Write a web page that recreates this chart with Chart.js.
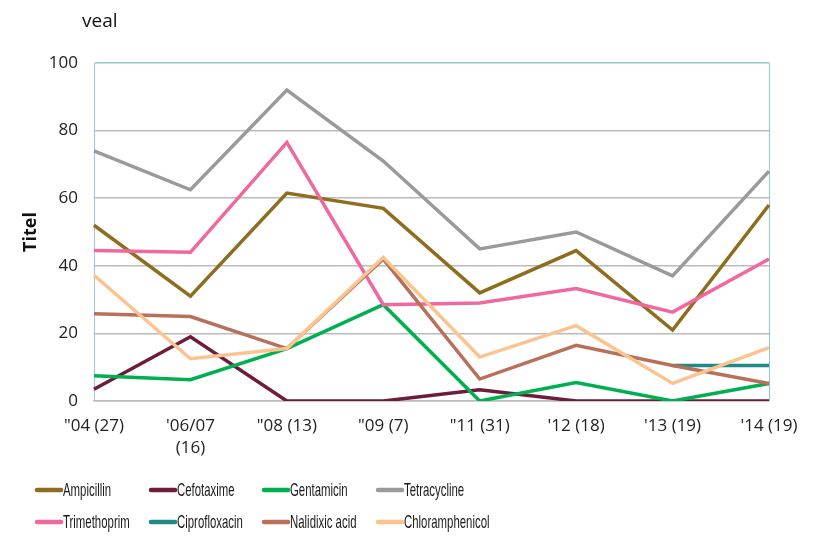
<!DOCTYPE html>
<html>
<head>
<meta charset="utf-8">
<script src="https://cdn.jsdelivr.net/npm/chart.js@4/dist/chart.umd.min.js"></script>
<style>
  html, body { margin: 0; padding: 0; background: #fff; }
  #wrap { width: 818px; height: 547px; position: relative; }
</style>
</head>
<body>
<div id="wrap"><canvas id="c" width="818" height="547"></canvas></div>
<script>
const canvas = document.getElementById("c")

// data
const years = ['"04 (27)', ["'06/07", "(16)"], '"08 (13)', '"09 (7)', '"11 (31)', "'12 (18)", "'13 (19)", "'14 (19)"]
const names = ["Ampicillin", "Cefotaxime", "Gentamicin", "Tetracycline", "Trimethoprim", "Ciprofloxacin", "Nalidixic acid", "Chloramphenicol"]
const ampicillin = [52, 31, 61.5, 57, 32, 44.5, 21, 58]
const cefotaxime = [3.5, 19, 0, 0, 3.3, 0, 0, 0]
const gentamicin = [7.5, 6.3, 15.5, 28.5, 0, 5.5, 0, 5.2]
const tetracycline = [74, 62.5, 92, 71, 45, 50, 37, 68]
const trimethoprim = [44.5, 44, 76.5, 28.5, 29, 33.3, 26.3, 42]
const ciprofloxacin = [null, null, null, null, null, null, 10.5, 10.5]
const nalidixic = [25.8, 25, 15.5, 42, 6.5, 16.5, 10.5, 5.2]
const chloramphenicol = [37.2, 12.5, 15.5, 42.5, 13, 22.3, 5.2, 15.8]
const colours = ["#8F6D1F", "#6E1C3C", "#00B050", "#999B9B", "#F0689E", "#1F8A88", "#B8705A", "#FBC48F"]

const series = [ampicillin, cefotaxime, gentamicin, tetracycline, trimethoprim, ciprofloxacin, nalidixic, chloramphenicol]

let datasets = series.map((d, i) => ({
    label: names[i],
    data: d,
    borderColor: colours[i],
    backgroundColor: colours[i],
    borderWidth: 3.5,
    pointRadius: 0,
    tension: 0,
    spanGaps: false,
    order: 10 - i   // later series drawn on top like the original
}))

// title + legend drawn on the canvas
const extras = {
    id: "extras",
    afterDraw(chart){
        const ctx = chart.ctx
        ctx.save()
        ctx.fillStyle = "#111"
        ctx.font = "19px 'Open Sans', sans-serif"
        ctx.textBaseline = "middle"
        ctx.textAlign = "left"
        ctx.fillText("veal", 82, 22)

        const colX = [36, 150, 263, 377]
        const rowY = [490, 522]
        ctx.font = "19px 'Liberation Sans', sans-serif"
        chart.data.datasets.forEach((ds, i) => {
            let x = colX[i % 4]
            let y = rowY[Math.floor(i / 4)]
            ctx.strokeStyle = ds.borderColor
            ctx.lineWidth = 4.5
            ctx.lineCap = "round"
            ctx.beginPath()
            ctx.moveTo(x + 1, y)
            ctx.lineTo(x + 25, y)
            ctx.stroke()
            ctx.fillStyle = "#1a1a1a"
            ctx.save()
            ctx.translate(x + 27, y + 1)
            ctx.scale(0.6, 1)   // narrow face like the original legend
            ctx.fillText(ds.label, 0, 0)
            ctx.restore()
        })
        ctx.restore()
    }
}

const chart = new Chart(canvas.getContext("2d"), {
    type: "line",
    data: {labels: years, datasets: datasets},
    options: {
        responsive: false,
        animation: false,
        layout: {padding: {top: 63, right: 49, left: 0, bottom: 0}},
        plugins: {legend: {display: false}, tooltip: {enabled: false}},
        scales: {
            x: {
                offset: false,
                grid: {
                    drawTicks: false,
                    color: (c) => c.index === 7 ? "#8FC9C9" : "rgba(0,0,0,0)"
                },
                border: {display: true, color: "#BBBBBB", width: 1.5},
                ticks: {font: {family: "'Open Sans', sans-serif", size: 17, lineHeight: 1.25}, color: "#222", padding: 15, maxRotation: 0, autoSkip: false},
                afterFit: (s) => { s.height = 146 }
            },
            y: {
                min: 0,
                max: 100,
                grid: {
                    drawTicks: false,
                    color: (c) => c.tick && c.tick.value === 100 ? "#8FC9C9" : "#BBBBBB",
                    lineWidth: 1.5
                },
                border: {display: true, color: "#9DC3E6", width: 1},
                ticks: {stepSize: 20, font: {family: "'Open Sans', sans-serif", size: 17}, color: "#222", padding: 16},
                title: {
                    display: true,
                    text: "Titel",
                    color: "#111",
                    font: {family: "'Open Sans', sans-serif", size: 18, weight: "bold"},
                    padding: {top: 20, bottom: 0}
                },
                afterFit: (s) => { s.width = 94 }
            }
        }
    },
    plugins: [extras]
})
</script>
</body>
</html>
